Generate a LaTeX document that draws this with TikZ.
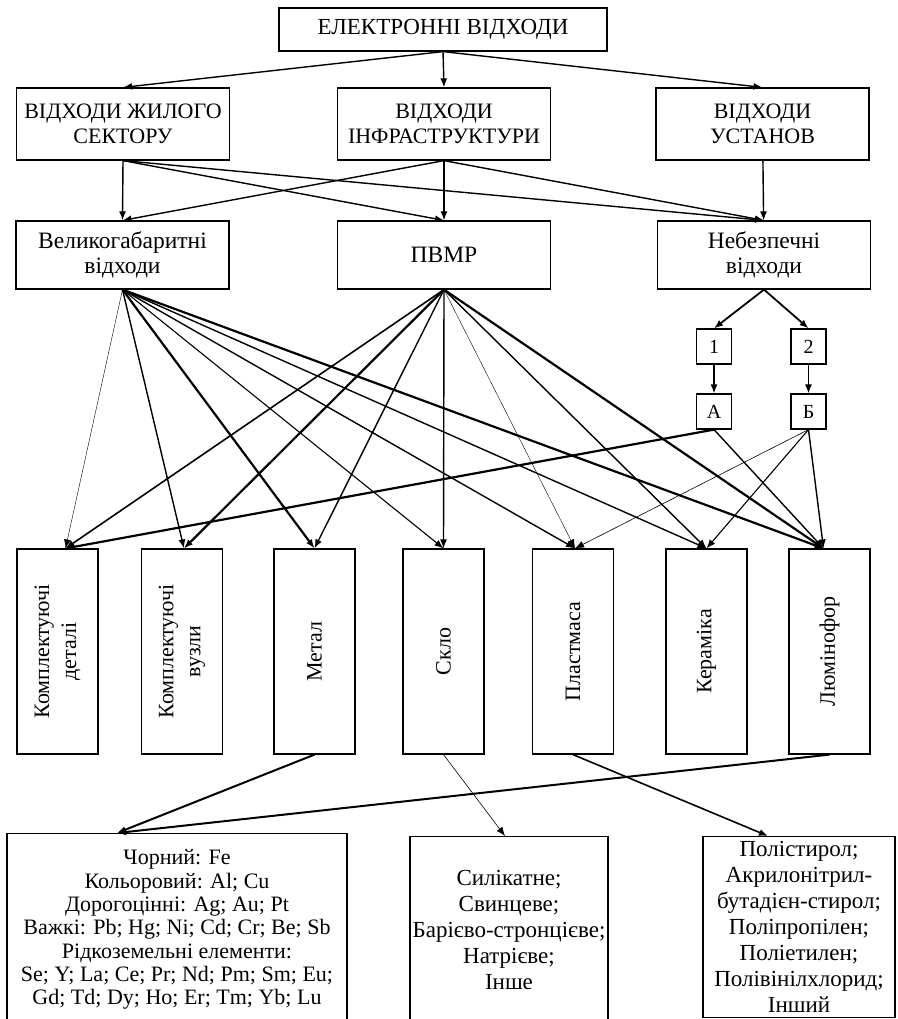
\documentclass[tikz,border=0pt]{standalone}
\usepackage{fontspec}
\setmainfont{Liberation Serif}
\usetikzlibrary{arrows.meta}

\begin{document}
\begin{tikzpicture}[x=1pt,y=-1pt,
  box/.style={draw,line width=1.2pt,align=center,inner sep=0pt,font=\fontsize{22}{25}\selectfont},
  arr/.style={-{Latex[length=9pt,width=7pt]},line width=1.4pt}]
\useasboundingbox (0,0) rectangle (897,1019);

% top levels
\node[box,minimum width=328,minimum height=43,font=\fontsize{23}{25}\selectfont] (ew) at (443,29.5) {ЕЛЕКТРОННІ ВІДХОДИ};
\node[box,minimum width=213,minimum height=72] (zhyl) at (123,124) {ВІДХОДИ ЖИЛОГО\\СЕКТОРУ};
\node[box,minimum width=213,minimum height=72] (infr) at (444,124) {ВІДХОДИ\\ІНФРАСТРУКТУРИ};
\node[box,minimum width=213,minimum height=72] (ust) at (762.5,124) {ВІДХОДИ\\УСТАНОВ};

\node[box,minimum width=213,minimum height=68,font=\fontsize{23.5}{25}\selectfont] (velk) at (122.5,255) {Великогабаритні\\відходи};
\node[box,minimum width=213,minimum height=68,font=\fontsize{23.5}{25}\selectfont] (pvmr) at (444,255) {ПВМР};
\node[box,minimum width=213,minimum height=68,font=\fontsize{23.5}{25}\selectfont] (nebez) at (764,255) {Небезпечні\\відходи};

\node[box,minimum size=35,font=\fontsize{20}{24}\selectfont] (n1) at (714,346.5) {1};
\node[box,minimum size=35,font=\fontsize{20}{24}\selectfont] (n2) at (808.5,346.5) {2};
\node[box,minimum size=35,font=\fontsize{20}{24}\selectfont] (na) at (714,411.5) {А};
\node[box,minimum size=35,font=\fontsize{20}{24}\selectfont] (nb) at (808.5,411.5) {Б};

% columns of materials
\foreach \i/\x/\d/\t in {1/57.5/8/{Комплектуючі\\деталі},2/182/2/{Комплектуючі\\вузли},3/314.5/0/Метал,
  4/443.5/0/Скло,5/573/2/Пластмаса,6/706.5/0/Кераміка,7/829.5/-6/Люмінофор}
{
\node[box,minimum width=81,minimum height=205] (c\i) at (\x,651.5) {};
\node[rotate=90,align=center,font=\fontsize{22}{27}\selectfont] at (c\i) {\t};
\coordinate (t\i) at ([xshift=\d pt]c\i.north);
}

% bottom boxes
\node[box,anchor=north,minimum width=340,minimum height=192,font=\fontsize{22}{23.3}\selectfont] (metaly) at (177,833)
  {Чорний: Fe\\Кольоровий: Al; Cu\\Дорогоцінні: Ag; Au; Pt\\Важкі: Pb; Hg; Ni; Cd; Cr; Be; Sb\\Рідкоземельні елементи:\\Se; Y; La; Ce; Pr; Nd; Pm; Sm; Eu;\\Gd; Td; Dy; Ho; Er; Tm; Yb; Lu};
\node[box,anchor=north,minimum width=198,minimum height=186,font=\fontsize{23}{26}\selectfont] (sklotypy) at (509,836)
  {Силікатне;\\Свинцеве;\\Барієво-стронцієве;\\Натрієве;\\Інше};
\node[box,anchor=north,minimum width=192,minimum height=181,font=\fontsize{23}{26}\selectfont] (plastyky) at (799,836)
  {Полістирол;\\Акрилонітрил-\\бутадієн-стирол;\\Поліпропілен;\\Поліетилен;\\Полівінілхлорид;\\Інший};

% connectors
\foreach \b in {zhyl,infr,ust} \draw[arr] (ew.south) -- (\b.north);
\foreach \a in {zhyl,infr} \foreach \b in {velk,pvmr,nebez} \draw[arr] (\a.south) -- (\b.north);
\draw[arr] (ust) -- (nebez);
\draw[arr,line width=1.8pt] (nebez.south) -- (n1.north);
\draw[arr,line width=1.8pt] (nebez.south) -- (n2.north);
\draw[arr] (n1) -- (na);
\draw[arr] (n2) -- (nb);

\foreach \c/\w in {1/0.4,2/1.4,3/2.2,4/1.1,5/1.4,6/1.4,7/2.2}
\draw[arr,line width=\w pt] (velk.south) -- (t\c);
\foreach \c/\w in {1/1.6,2/2.2,3/1.4,4/1.4,5/0.4,6/1.4,7/2.2}
\draw[arr,line width=\w pt] (pvmr.south) -- (t\c);
\foreach \c/\w in {1/2.2,7/1.4}
\draw[arr,line width=\w pt] (na.south) -- (t\c);
\foreach \c/\w in {5/0.6,6/1.1,7/1.4}
\draw[arr,line width=\w pt] (nb.south) -- (t\c);

\draw[arr,line width=2pt] (c3.south) -- ([xshift=-60pt]metaly.north);
\draw[arr,line width=2pt] (c7.south) -- ([xshift=-60pt]metaly.north);
\draw[arr,line width=0.6pt] (c4.south) -- ([xshift=-4pt]sklotypy.north);
\draw[arr,line width=1.6pt] (c5.south) -- ([xshift=-31pt]plastyky.north);

\end{tikzpicture}
\end{document}
